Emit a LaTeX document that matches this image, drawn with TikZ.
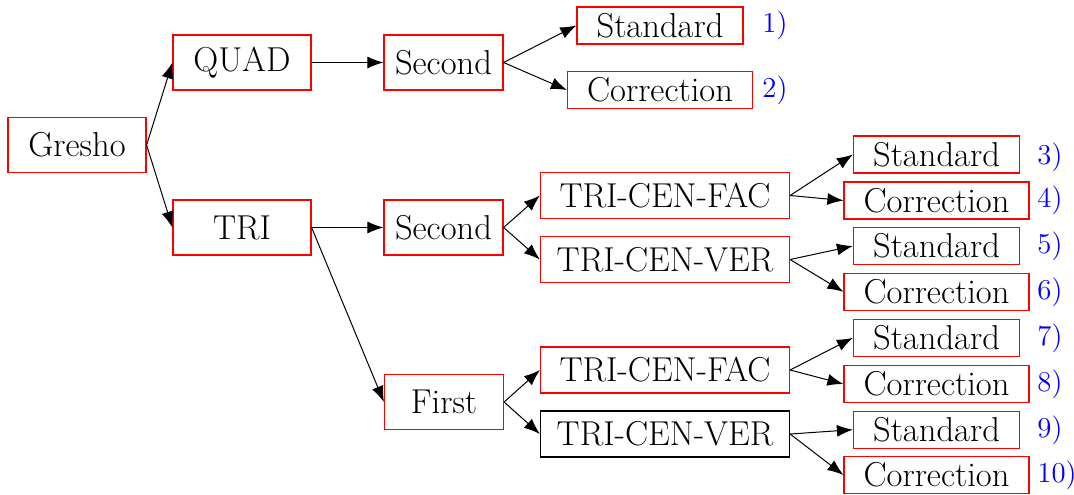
\documentclass[tikz,border=0pt]{standalone}
\usepackage{amsmath}
\usetikzlibrary{arrows.meta}

\begin{document}
\begin{tikzpicture}[x=0.5pt,y=-0.5pt,
    big/.style={minimum width=69pt,minimum height=27.5pt},
    mid/.style={minimum width=59.5pt,minimum height=27.5pt},
    wide/.style={minimum width=124.5pt,minimum height=23pt},
    stnd/.style={minimum width=83pt,minimum height=18.5pt},
    corr/.style={minimum width=92.5pt,minimum height=18.5pt}]

      \useasboundingbox (0,0) rectangle (1074,494);

      \begin{scope}[every node/.style={draw=red,line width=0.6pt,inner sep=0pt,font=\LARGE}]
        \node[big] (g) at (77,145) {Gresho};
        \node[big] (quad) at (242,62.5) {QUAD};
        \node[big] (tri) at (242,227.5) {TRI};
        \node[mid] (s1) at (443.5,62.5) {Second};
        \node[mid] (s2) at (443.5,227.5) {Second};
        \node[mid] (f) at (444,402) {First};
        \node[wide] (fac1) at (665,195.5) {TRI-CEN-FAC};
        \node[wide] (ver1) at (665,259.5) {TRI-CEN-VER};
        \node[wide] (fac2) at (665,370) {TRI-CEN-FAC};
        \node[wide,draw=black] (ver2) at (665,434) {TRI-CEN-VER};
        \node[stnd] (st1) at (660,25.5) {Standard};
        \node[corr] (co2) at (660,90) {Correction};
        \node[stnd] (st3) at (936.5,154.5) {Standard};
        \node[corr] (co4) at (936.5,200.5) {Correction};
        \node[stnd] (st5) at (936.5,246) {Standard};
        \node[corr] (co6) at (936.5,291.8) {Correction};
        \node[stnd] (st7) at (936.5,337.8) {Standard};
        \node[corr] (co8) at (936.5,384) {Correction};
        \node[stnd] (st9) at (936.5,429.7) {Standard};
        \node[corr] (co10) at (936.5,475) {Correction};
      \end{scope}

      \begin{scope}[every node/.style={text=blue,font=\Large,anchor=west,inner sep=0pt}]
        \node (n1) at (762,25) {1)};
        \node (n2) at (762,90) {2)};
        \node (n3) at (1037,157) {3)};
        \node (n4) at (1037,200) {4)};
        \node (n5) at (1037,246) {5)};
        \node (n6) at (1037,292) {6)};
        \node (n7) at (1037,338) {7)};
        \node (n8) at (1037,384) {8)};
        \node (n9) at (1037,430) {9)};
        \node (n10) at (1037,475) {10)};
      \end{scope}

      \begin{scope}[every edge/.style={draw,line width=0.5pt,-{Latex[length=8pt,width=6pt]}}]
        \path (g.east) edge (quad.west);
        \path (g.east) edge (tri.west);
        \path (quad.east) edge (s1.west);
        \path (tri.east) edge (s2.west);
        \path (tri.east) edge (f.west);
        \path (s1.east) edge (st1.west);
        \path (s1.east) edge (co2.west);
        \path (s2.east) edge (fac1.west);
        \path (s2.east) edge (ver1.west);
        \path (f.east) edge (fac2.west);
        \path (f.east) edge (ver2.west);
        \path (fac1.east) edge (st3.west);
        \path (fac1.east) edge (co4.west);
        \path (ver1.east) edge (st5.west);
        \path (ver1.east) edge (co6.west);
        \path (fac2.east) edge (st7.west);
        \path (fac2.east) edge (co8.west);
        \path (ver2.east) edge (st9.west);
        \path (ver2.east) edge (co10.west);
      \end{scope}

    \end{tikzpicture}
\end{document}
